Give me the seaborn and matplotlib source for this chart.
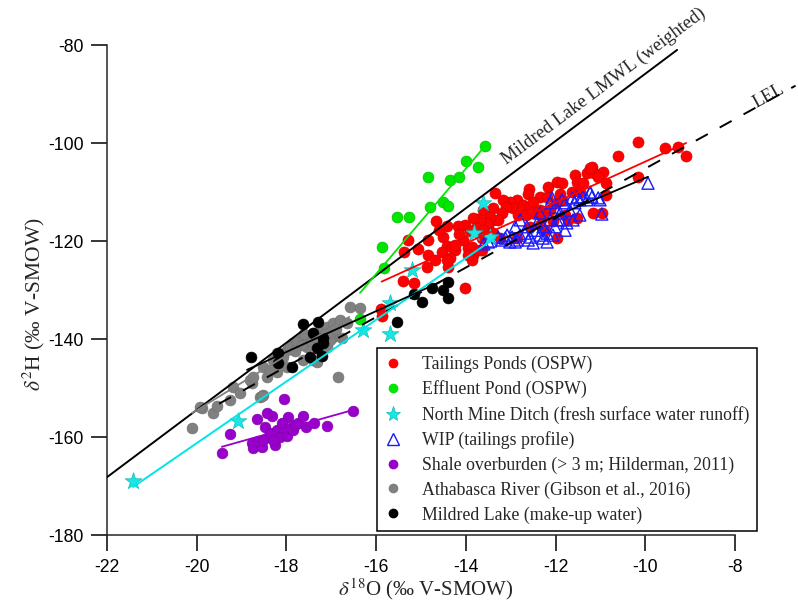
import numpy as np
import pandas as pd
import matplotlib
matplotlib.use("Agg")
import matplotlib.pyplot as plt
from matplotlib.lines import Line2D
import seaborn as sns

# ---------------- data ----------------
tp_x = [-13.35, -13.62, -13.75, -14.02, -14.67, -13.40, -13.50, -15.29, -14.84, -14.51,
        -15.38, -15.07, -14.42, -14.31, -14.24, -14.53, -13.95, -13.84, -14.84, -14.69,
        -14.35, -14.87, -14.40, -13.86, -13.64, -15.40, -15.16, -14.02, -15.89, -15.87,
        -12.59, -12.61, -12.35, -12.17, -11.97, -11.86, -11.57, -11.52, -11.39, -11.30,
        -11.19, -11.15, -10.94, -10.88, -10.61, -10.16, -12.86, -13.02, -12.95, -12.73,
        -12.57, -12.50, -12.84, -12.66, -12.53, -12.35, -13.17, -13.10, -13.19, -13.40,
        -13.28, -13.46, -13.53, -13.69, -13.84, -13.77, -13.62, -14.18, -14.42, -12.19,
        -12.12, -11.99, -11.86, -11.63, -11.46, -11.79, -11.52, -11.17, -12.57, -12.35,
        -11.97, -11.72, -13.40, -13.24, -13.64, -13.86, -13.69, -14.06, -14.24, -13.95,
        -14.42, -12.86, -12.24, -9.56, -9.27, -9.09, -10.16, -10.88, -11.23, -10.97,
        -11.05, -11.90, -12.30, -12.05, -13.90, -14.15, -14.60]
tp_y = [-110.2, -113.7, -115.5, -116.7, -115.9, -115.7, -117.3, -119.8, -119.8, -119.2,
        -122.2, -121.6, -121.0, -121.2, -121.8, -122.2, -121.4, -122.9, -122.9, -123.9,
        -123.5, -125.3, -125.3, -123.9, -121.8, -128.2, -128.6, -129.6, -133.9, -135.3,
        -109.4, -110.4, -111.0, -109.0, -108.0, -108.2, -106.5, -108.0, -108.2, -106.1,
        -104.9, -106.1, -105.9, -108.2, -102.7, -99.8, -111.6, -112.0, -113.3, -112.7,
        -113.1, -112.0, -114.7, -114.7, -114.3, -113.7, -111.6, -113.1, -114.3, -113.3,
        -115.7, -115.1, -116.3, -115.7, -115.3, -117.3, -117.8, -116.9, -116.9, -111.0,
        -113.7, -112.2, -111.6, -110.0, -110.0, -114.7, -115.3, -114.3, -117.1, -116.7,
        -119.4, -115.7, -118.4, -119.4, -119.4, -121.2, -121.8, -119.8, -120.8, -122.9,
        -123.9, -119.4, -117.8, -101.0, -100.8, -102.7, -106.9, -110.6, -105.1, -114.3,
        -107.0, -110.5, -115.0, -116.0, -118.0, -118.6, -117.8]

ep_x = [-13.57, -14.00, -13.73, -14.84, -14.35, -14.15, -14.51, -14.40, -14.80, -15.54,
        -15.27, -15.87, -15.83, -16.36]
ep_y = [-100.6, -103.7, -104.9, -106.9, -107.6, -106.9, -112.0, -112.9, -113.1, -115.1,
        -115.1, -121.2, -125.5, -135.9]

nmd_x = [-13.62, -13.82, -13.46, -15.20, -15.69, -16.29, -15.69, -19.08, -21.42]
nmd_y = [-112.2, -118.4, -119.2, -125.9, -132.7, -138.2, -139.0, -156.7, -169.0]

wip_x = [-13.28, -13.08, -12.97, -12.90, -12.79, -12.68, -12.57, -12.46, -12.35, -12.28,
         -12.19, -12.12, -12.08, -12.01, -11.97, -11.90, -11.86, -11.79, -11.75, -11.68,
         -11.63, -11.57, -11.52, -11.46, -11.39, -11.23, -11.19, -11.01, -11.46, -10.97,
         -12.79, -12.64, -12.90, -12.41, -13.12, -12.86, -12.61, -12.28, -12.06, -12.50,
         -12.19, -13.02, -13.19, -12.35, -12.12, -11.90, -11.79, -12.01, -11.61, -11.30,
         -9.94, -11.05, -11.23, -13.45, -13.60, -13.50]
wip_y = [-119.2, -118.8, -119.2, -120.2, -118.8, -118.4, -119.2, -117.8, -118.8, -117.1,
         -118.4, -115.7, -111.2, -113.1, -115.7, -114.3, -111.6, -112.2, -116.3, -113.7,
         -111.2, -112.2, -111.0, -111.6, -111.0, -110.0, -111.0, -111.6, -114.7, -114.5,
         -115.7, -117.1, -117.1, -116.3, -119.4, -119.8, -119.8, -119.4, -118.8, -120.4,
         -120.2, -120.2, -119.8, -114.3, -112.2, -115.7, -117.8, -117.1, -115.7, -111.6,
         -108.2, -111.2, -110.2, -120.0, -120.6, -120.2]

sh_x = [-19.44, -19.26, -18.77, -18.75, -18.66, -18.54, -18.48, -18.43, -18.41, -18.37,
        -18.32, -18.26, -18.21, -18.14, -18.10, -18.05, -17.99, -17.97, -18.10, -17.92,
        -17.85, -17.81, -17.74, -17.63, -17.56, -17.39, -17.10, -16.52, -18.63, -18.52,
        -18.30]
sh_y = [-163.3, -159.4, -161.2, -162.2, -156.3, -162.0, -158.0, -155.1, -160.0, -159.2,
        -155.7, -161.6, -158.6, -160.0, -158.0, -152.2, -159.8, -155.9, -157.1, -158.2,
        -158.6, -157.6, -157.1, -155.7, -158.0, -157.1, -157.8, -154.7, -160.8, -160.6,
        -160.6]

ar_x = [-20.10, -19.88, -19.64, -19.55, -19.26, -19.19, -19.04, -18.77, -18.59, -18.52,
        -18.30, -18.21, -17.99, -17.85, -17.70, -17.54, -17.41, -17.25, -17.10, -16.85,
        -16.96, -16.76, -18.43, -18.21, -19.93, -18.81, -18.75, -18.52, -18.37, -18.08,
        -17.99, -17.92, -17.76, -17.65, -17.54, -17.41, -17.63, -17.25, -17.10, -16.96,
        -16.81, -16.65, -17.03, -17.19, -17.32, -16.58, -16.36, -17.45, -17.35, -17.15,
        -17.00, -16.90, -17.60, -17.80, -18.54]
ar_y = [-158.2, -154.1, -155.1, -153.7, -152.4, -149.8, -151.0, -149.0, -151.8, -145.7,
        -144.3, -142.9, -142.2, -140.8, -140.2, -141.6, -144.3, -142.2, -141.6, -147.8,
        -139.6, -139.8, -147.8, -146.7, -153.9, -148.4, -147.8, -151.4, -146.3, -143.7,
        -145.7, -141.6, -140.6, -141.2, -139.6, -138.8, -144.3, -138.2, -137.6, -136.7,
        -136.1, -136.7, -140.2, -140.8, -144.7, -133.5, -133.7, -140.5, -139.5, -139.0,
        -138.5, -138.0, -139.0, -142.5, -151.6]

ml_x = [-18.79, -18.19, -18.19, -17.88, -17.63, -17.41, -17.30, -17.19, -17.19, -17.32,
        -17.47, -17.21, -15.54, -15.16, -14.98, -14.76, -14.51, -14.40, -14.40]
ml_y = [-143.7, -142.9, -144.9, -145.7, -136.9, -138.8, -136.5, -139.8, -140.8, -141.8,
        -143.7, -143.5, -136.5, -130.8, -132.4, -129.6, -130.0, -128.4, -131.6]

# fitted / reference lines (end points)
lmwl_x, lmwl_y = [-22.0, -9.29], [-168.2, -81.0]
lel_x, lel_y = [-19.5, -6.65], [-153.2, -88.3]
fit_tp_x, fit_tp_y = [-15.88, -9.09], [-128.3, -100.0]
fit_ep_x, fit_ep_y = [-16.36, -13.57], [-130.6, -100.6]
fit_nmd_x, fit_nmd_y = [-21.42, -13.35], [-170.2, -119.4]
fit_sh_x, fit_sh_y = [-19.44, -16.52], [-162.0, -154.5]
fit_ar_x, fit_ar_y = [-20.10, -16.60], [-155.1, -135.5]
fit_ml_x, fit_ml_y = [-18.88, -14.58], [-146.3, -128.4]
fit_wip_x, fit_wip_y = [-13.24, -9.94], [-119.8, -106.9]

x_ticks = [-22, -20, -18, -16, -14, -12, -10, -8]
y_ticks = [-180, -160, -140, -120, -100, -80]

labels = ["Tailings Ponds (OSPW)", "Effluent Pond (OSPW)",
          "North Mine Ditch (fresh surface water runoff)", "WIP (tailings profile)",
          "Shale overburden (> 3 m; Hilderman, 2011)", "Athabasca River (Gibson et al., 2016)",
          "Mildred Lake (make-up water)"]

# ---------------- style ----------------
sns.set_style("ticks")
plt.rcParams['font.family'] = ['Liberation Sans', 'DejaVu Sans']
plt.rcParams['mathtext.fontset'] = 'stix'

RED = '#ff0000'
GREEN = '#00e600'
CYAN = '#19e6e6'
BLUE = '#1a1aff'
PURPLE = '#9900cc'
GRAY = '#808080'
BLACK = '#000000'

W, H = 798, 605
fig = plt.figure(figsize=(W / 100, H / 100), dpi=100)
# axes: x=-22 at px 107, -8 at px 735 ; y=-180 at py 535, -80 at py 45
ax = fig.add_axes([107 / W, 70 / H, 691 / W, 535 / H])
ax.set_xlim(-22, -22 + 691 / 44.857)
ax.set_ylim(-180, -180 + 535 / 4.9)

def line(xs, ys, color, lw=1.3, z=4, **kw):
    sns.lineplot(x=xs, y=ys, ax=ax, color=color, lw=lw, zorder=z, legend=False,
                 estimator=None, sort=False, **kw)

def pts(xs, ys, **kw):
    sns.scatterplot(x=xs, y=ys, ax=ax, legend=False, **kw)

# points
pts(ar_x, ar_y, color=GRAY, s=62, edgecolor='#6e6e6e', linewidth=0.4, zorder=2)
pts(ml_x, ml_y, color=BLACK, s=62, edgecolor='black', linewidth=0.4, zorder=2.1)
pts(sh_x, sh_y, color=PURPLE, s=60, edgecolor='#7a00a3', linewidth=0.4, zorder=2)
pts(ep_x, ep_y, color=GREEN, s=62, edgecolor='#00b000', linewidth=0.4, zorder=2)
pts(tp_x, tp_y, color=RED, s=64, edgecolor='#d00000', linewidth=0.4, zorder=2.2)
pts(wip_x, wip_y, marker='^', s=75, facecolor='none', edgecolor=BLUE, linewidth=1.0, zorder=2.4)
pts(nmd_x, nmd_y, marker='*', s=160, color=CYAN, edgecolor='#10b8b8', linewidth=0.5, zorder=2.5)

# lines
line(lmwl_x, lmwl_y, BLACK, lw=1.4)
line(lel_x, lel_y, BLACK, lw=1.4, dashes=(7, 7))
line(fit_tp_x, fit_tp_y, RED, lw=1.3)
line(fit_ep_x, fit_ep_y, GREEN, lw=1.3)
line(fit_nmd_x, fit_nmd_y, '#00e5e5', lw=1.4)
line(fit_sh_x, fit_sh_y, PURPLE, lw=1.3)
line(fit_ar_x, fit_ar_y, GRAY, lw=1.3)
line(fit_ml_x, fit_ml_y, BLACK, lw=1.3)
line(fit_wip_x, fit_wip_y, BLACK, lw=1.3)

# line labels
ax.text(-10.82, -89.9, "Mildred Lake LMWL (weighted)", rotation=36.8, rotation_mode='anchor',
        ha='center', va='bottom', fontsize=13.5, family='Liberation Serif', clip_on=False)
ax.text(-7.15, -92.0, "LEL", rotation=29, rotation_mode='anchor', ha='center', va='bottom',
        fontsize=13, family='Liberation Serif', clip_on=False)

# axes styling
for sp in ['top', 'right']:
    ax.spines[sp].set_visible(False)
ax.spines['left'].set_bounds(-180, -80)
ax.spines['bottom'].set_bounds(-22, -8)
for sp in ['left', 'bottom']:
    ax.spines[sp].set_linewidth(1.1)
ax.set_xticks(x_ticks)
ax.set_yticks(y_ticks)
ax.set_xticklabels([str(v) for v in x_ticks])
ax.set_yticklabels([str(v) for v in y_ticks])
ax.tick_params(direction='out', length=11.5, width=1.1, labelsize=12.7, colors='black')
ax.tick_params(axis='x', pad=6)
ax.tick_params(axis='y', pad=5)

ax.set_xlabel(r'$\delta^{18}$O (‰ V-SMOW)', fontsize=15, family='Liberation Serif')
ax.set_ylabel(r'$\delta^{2}$H (‰ V-SMOW)', fontsize=15.5, family='Liberation Serif')
ax.xaxis.set_label_coords(0.462, -0.077)
ax.yaxis.set_label_coords(-0.087, 0.432)

# legend
handles = [
    Line2D([], [], ls='none', marker='o', ms=6, mfc=RED, mec=RED),
    Line2D([], [], ls='none', marker='o', ms=6, mfc=GREEN, mec=GREEN),
    Line2D([], [], ls='none', marker='*', ms=11, mfc=CYAN, mec='#10b8b8', mew=0.5),
    Line2D([], [], ls='none', marker='^', ms=8, mfc='none', mec=BLUE, mew=1.0),
    Line2D([], [], ls='none', marker='o', ms=6, mfc=PURPLE, mec=PURPLE),
    Line2D([], [], ls='none', marker='o', ms=6, mfc=GRAY, mec=GRAY),
    Line2D([], [], ls='none', marker='o', ms=6, mfc=BLACK, mec=BLACK),
]
leg = ax.legend(handles, labels, loc='lower left', bbox_to_anchor=(377 / W, 74 / H),
                bbox_transform=fig.transFigure, frameon=True, fancybox=False,
                edgecolor='black', framealpha=1, borderaxespad=0, borderpad=0.42,
                handlelength=0.95, handletextpad=1.15, labelspacing=0.42,
                prop={'family': 'Liberation Serif', 'size': 12.8})
leg.get_frame().set_linewidth(1.1)
leg.set_zorder(10)

fig.savefig("out.png", dpi=100)
